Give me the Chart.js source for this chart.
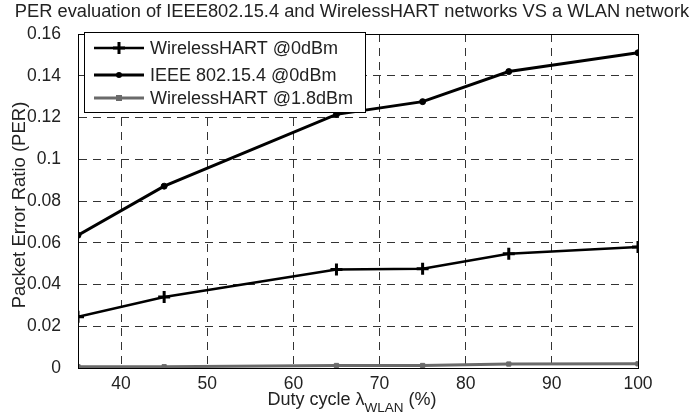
<!DOCTYPE html>
<html>
<head>
<meta charset="utf-8">
<script src="https://cdn.jsdelivr.net/npm/chart.js@4.4.1/dist/chart.umd.min.js"></script>
<style>
  html, body { margin: 0; padding: 0; background: #fff; }
  #wrap { width: 697px; height: 416px; position: relative; }
</style>
</head>
<body>
<div id="wrap"><canvas id="perChart" width="697" height="416"></canvas></div>
<script>
// PER vs WLAN duty cycle

const dutyCycle = [35, 45, 65, 75, 85, 100];
const xTicks = [40, 50, 60, 70, 80, 90, 100];
const yTicks = [0, 0.02, 0.04, 0.06, 0.08, 0.1, 0.12, 0.14, 0.16];

const whart0dBm = [0.0245, 0.034, 0.0472, 0.0476, 0.0547, 0.058];
const ieee0dBm = [0.0636, 0.0871, 0.1215, 0.1276, 0.142, 0.151];
const whart18dBm = [0.0006, 0.0006, 0.0012, 0.0012, 0.0019, 0.002];

const seriesNames = ['WirelessHART @0dBm', 'IEEE 802.15.4 @0dBm', 'WirelessHART @1.8dBm'];

const FONT = '"Liberation Sans", Arial, sans-serif';
const TEXT = '#222';

function toPoints(values) {
    return dutyCycle.map((x, i) => ({ x: x, y: values[i] }));
}

// Title, axis titles, frame and legend drawn on top
const decorPlugin = {
    id: 'decor',
    afterDraw(chart) {
        const ctx = chart.ctx;
        const area = chart.chartArea;
        ctx.save();

        // frame
        ctx.strokeStyle = '#000';
        ctx.lineWidth = 1;
        ctx.setLineDash([]);
        ctx.strokeRect(area.left + 0.5, area.top + 0.5, area.right - area.left, area.bottom - area.top);

        // title
        ctx.fillStyle = TEXT;
        ctx.font = '18.3px ' + FONT;
        ctx.textAlign = 'center';
        ctx.textBaseline = 'middle';
        ctx.fillText('PER evaluation of IEEE802.15.4 and WirelessHART networks VS a WLAN network', 352, 12);

        // y title
        ctx.save();
        ctx.translate(20, 205);
        ctx.rotate(-Math.PI / 2);
        ctx.font = '18.5px ' + FONT;
        ctx.fillText('Packet Error Ratio (PER)', 0, 0);
        ctx.restore();

        // x title with subscript
        ctx.textAlign = 'left';
        ctx.textBaseline = 'alphabetic';
        const main = 'Duty cycle \u03bb';
        const sub = 'WLAN';
        const tail = ' (%)';
        ctx.font = '18px ' + FONT;
        const wMain = ctx.measureText(main).width;
        const wTail = ctx.measureText(tail).width;
        ctx.font = '13.5px ' + FONT;
        const wSub = ctx.measureText(sub).width;
        let x = 352 - (wMain + wSub + wTail) / 2;
        const base = 405;
        ctx.font = '18px ' + FONT;
        ctx.fillText(main, x, base);
        x += wMain;
        ctx.font = '13.5px ' + FONT;
        ctx.fillText(sub, x, base + 7);
        x += wSub;
        ctx.font = '18px ' + FONT;
        ctx.fillText(tail, x, base);

        // legend box
        const box = { x: 84.5, y: 32.5, w: 281, h: 80 };
        ctx.fillStyle = '#fff';
        ctx.fillRect(box.x, box.y, box.w, box.h);
        ctx.strokeStyle = '#000';
        ctx.strokeRect(box.x, box.y, box.w, box.h);

        const rowY = [48, 75, 98];
        chart.data.datasets.forEach((ds, i) => {
            const y = rowY[i];
            ctx.strokeStyle = ds.borderColor;
            ctx.lineWidth = ds.borderWidth;
            ctx.beginPath();
            ctx.moveTo(94, y);
            ctx.lineTo(144, y);
            ctx.stroke();
            const mx = 119;
            ctx.fillStyle = ds.borderColor;
            if (ds.pointStyle === 'cross') {
                ctx.lineWidth = ds.pointBorderWidth;
                ctx.beginPath();
                ctx.moveTo(mx - ds.pointRadius, y);
                ctx.lineTo(mx + ds.pointRadius, y);
                ctx.moveTo(mx, y - ds.pointRadius);
                ctx.lineTo(mx, y + ds.pointRadius);
                ctx.stroke();
            } else if (ds.pointStyle === 'circle') {
                ctx.beginPath();
                ctx.arc(mx, y, ds.pointRadius, 0, Math.PI * 2);
                ctx.fill();
            } else {
                ctx.fillRect(mx - ds.pointRadius, y - ds.pointRadius, ds.pointRadius * 2, ds.pointRadius * 2);
            }
            ctx.fillStyle = TEXT;
            ctx.font = '18px ' + FONT;
            ctx.textBaseline = 'middle';
            ctx.fillText(ds.label, 150, y + 1);
        });

        ctx.restore();
    }
};

new Chart(document.getElementById('perChart'), {
    type: 'line',
    data: {
        datasets: [
            {
                label: seriesNames[0],
                data: toPoints(whart0dBm),
                borderColor: '#000',
                backgroundColor: '#000',
                borderWidth: 2.5,
                pointStyle: 'cross',
                pointRadius: 6,
                pointBorderWidth: 3,
                tension: 0
            },
            {
                label: seriesNames[1],
                data: toPoints(ieee0dBm),
                borderColor: '#000',
                backgroundColor: '#000',
                borderWidth: 3,
                pointStyle: 'circle',
                pointRadius: 3,
                pointBorderWidth: 1,
                tension: 0
            },
            {
                label: seriesNames[2],
                data: toPoints(whart18dBm),
                borderColor: '#6a6a6a',
                backgroundColor: '#6a6a6a',
                borderWidth: 3,
                pointStyle: 'rect',
                pointRadius: 3,
                pointBorderWidth: 1,
                tension: 0
            }
        ]
    },
    options: {
        responsive: false,
        animation: false,
        layout: { padding: { top: 34, right: 59, bottom: 0, left: 0 } },
        plugins: {
            legend: { display: false },
            title: { display: false },
            tooltip: { enabled: false }
        },
        scales: {
            x: {
                type: 'linear',
                min: 35,
                max: 100,
                afterFit: scale => { scale.height = 48; },
                afterBuildTicks: scale => { scale.ticks = xTicks.map(v => ({ value: v })); },
                ticks: {
                    font: { family: FONT, size: 17.5 },
                    color: TEXT,
                    padding: 6,
                    maxRotation: 0
                },
                grid: {
                    color: c => (c.tick && c.tick.value === 100) ? 'rgba(0,0,0,0)' : '#333',
                    lineWidth: 1,
                    drawTicks: false
                },
                border: { display: true, color: '#000', dash: [8, 6] }
            },
            y: {
                min: 0,
                max: 0.16,
                afterFit: scale => { scale.width = 78; },
                afterBuildTicks: scale => { scale.ticks = yTicks.map(v => ({ value: v })); },
                ticks: {
                    font: { family: FONT, size: 17.5 },
                    color: TEXT,
                    padding: 17,
                    callback: v => String(+v.toFixed(2))
                },
                grid: {
                    color: c => (c.tick && (c.tick.value === 0 || c.tick.value === 0.16)) ? 'rgba(0,0,0,0)' : '#333',
                    lineWidth: 1,
                    drawTicks: false
                },
                border: { display: true, color: '#000', dash: [8, 6] }
            }
        }
    },
    plugins: [decorPlugin]
});
</script>
</body>
</html>
